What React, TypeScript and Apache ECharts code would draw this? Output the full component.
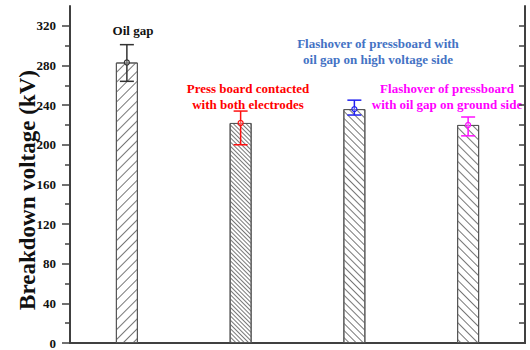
import React, { useEffect, useRef } from "react";
import * as echarts from "echarts";

const categories = ["Oil gap", "Press board contacted", "Flashover HV side", "Flashover ground side"];
const meanValues = [283, 222, 236, 220];
const upperValues = [301, 234, 245, 228];
const lowerValues = [264, 200, 230, 209];
const errorColors = ["#333333", "#ff1010", "#2020f0", "#ff10ff"];
const hatchGaps = [6, 2, 4, 5];
const hatchRotations = [-Math.PI / 4, Math.PI / 4, Math.PI / 4, Math.PI / 4];
const majorTicks = [0, 40, 80, 120, 160, 200, 240, 280, 320];
const minorTicks = [20, 60, 100, 140, 180, 220, 260, 300];
const rightTicks = [0, 20, 40, 60, 80, 100, 120, 140, 160, 180, 200, 220, 240, 260, 280, 300, 320];
const yTitle = "Breakdown voltage (kV)";
const annotations = [
  { lines: ["Oil gap"], color: "#111111", x: 133, y: 30 },
  { lines: ["Press board contacted", "with both electrodes"], color: "#ff0000", x: 248, y: 88 },
  { lines: ["Flashover of pressboard with", "oil gap on high voltage side"], color: "#4472c4", x: 378, y: 43 },
  { lines: ["Flashover of pressboard", "with oil gap on ground side"], color: "#ff00ff", x: 447, y: 88 },
];

const FONT = "'Liberation Serif', 'Times New Roman', serif";
const AXIS_COLOR = "#404040";

export default function App() {
  const ref = useRef<HTMLDivElement>(null);
  useEffect(() => {
    if (!ref.current) return;
    const chart = echarts.init(ref.current, null, { renderer: "svg" });

    const barData = meanValues.map((v, i) => ({
      value: v,
      itemStyle: {
        color: "#ffffff",
        borderColor: "#555555",
        borderWidth: 1,
        decal: {
          symbol: "rect",
          symbolSize: 1,
          color: "#777777",
          dashArrayX: [1, 0],
          dashArrayY: [1, hatchGaps[i]],
          rotation: hatchRotations[i],
        },
      },
    }));

    const errData = meanValues.map((v, i) => [i, v, upperValues[i], lowerValues[i]]);

    const graphics: any[] = [];
    annotations.forEach((a) => {
      a.lines.forEach((line, k) => {
        graphics.push({
          type: "text",
          x: a.x,
          y: a.y + k * 16,
          style: {
            text: line,
            fill: a.color,
            fontFamily: FONT,
            fontWeight: "bold",
            fontSize: 13,
            textAlign: "center",
            textVerticalAlign: "middle",
          },
        });
      });
    });
    graphics.push({
      type: "text",
      x: 27,
      y: 190,
      rotation: Math.PI / 2,
      style: {
        text: yTitle,
        fill: "#111111",
        fontFamily: FONT,
        fontWeight: "bold",
        fontSize: 23,
        textAlign: "center",
        textVerticalAlign: "middle",
      },
    });

    const common = { min: 0, max: 340, type: "value" as const, splitLine: { show: false } };

    chart.setOption({
      animation: false,
      textStyle: { fontFamily: FONT },
      grid: { left: 70, right: 5, top: 6, bottom: 7 },
      xAxis: [
        {
          type: "category",
          data: categories,
          position: "bottom",
          axisLine: { lineStyle: { color: AXIS_COLOR, width: 2 } },
          axisTick: { alignWithLabel: true, length: 6, lineStyle: { color: AXIS_COLOR, width: 1.5 } },
          axisLabel: { show: false },
        },
        {
          type: "category",
          data: categories,
          position: "top",
          axisLine: { lineStyle: { color: AXIS_COLOR, width: 2 } },
          axisTick: { alignWithLabel: true, inside: true, length: 6, lineStyle: { color: AXIS_COLOR, width: 1.5 } },
          axisLabel: { show: false },
        },
      ],
      yAxis: [
        {
          ...common,
          position: "left",
          axisLine: { show: true, lineStyle: { color: AXIS_COLOR, width: 2 } },
          axisTick: { show: true, customValues: majorTicks, length: 8, lineStyle: { color: AXIS_COLOR, width: 1.5 } },
          axisLabel: {
            customValues: majorTicks,
            margin: 14,
            color: "#111111",
            fontFamily: FONT,
            fontWeight: "bold",
            fontSize: 13,
          },
        },
        {
          ...common,
          position: "left",
          axisLine: { show: false },
          axisTick: { show: true, customValues: minorTicks, length: 5, lineStyle: { color: AXIS_COLOR, width: 1.5 } },
          axisLabel: { show: false },
        },
        {
          ...common,
          position: "right",
          axisLine: { show: true, lineStyle: { color: AXIS_COLOR, width: 2 } },
          axisTick: { show: true, inside: true, customValues: rightTicks, length: 6, lineStyle: { color: AXIS_COLOR, width: 1.5 } },
          axisLabel: { show: false },
        },
      ],
      series: [
        {
          type: "bar",
          xAxisIndex: 0,
          yAxisIndex: 0,
          barWidth: 22,
          data: barData,
        },
        {
          type: "custom",
          xAxisIndex: 0,
          yAxisIndex: 0,
          data: errData,
          z: 5,
          renderItem: (params: any, api: any) => {
            const idx = api.value(0);
            const color = errorColors[params.dataIndex];
            const pm = api.coord([idx, api.value(1)]);
            const pu = api.coord([idx, api.value(2)]);
            const pl = api.coord([idx, api.value(3)]);
            const hw = 7;
            const st = { stroke: color, lineWidth: 1.5 };
            return {
              type: "group",
              children: [
                { type: "line", shape: { x1: pu[0], y1: pu[1], x2: pl[0], y2: pl[1] }, style: st },
                { type: "line", shape: { x1: pu[0] - hw, y1: pu[1], x2: pu[0] + hw, y2: pu[1] }, style: st },
                { type: "line", shape: { x1: pl[0] - hw, y1: pl[1], x2: pl[0] + hw, y2: pl[1] }, style: st },
                { type: "circle", shape: { cx: pm[0], cy: pm[1], r: 2.5 }, style: { stroke: color, fill: "rgba(255,255,255,0.3)", lineWidth: 1.2 } },
              ],
            };
          },
        },
      ],
      graphic: graphics,
    });
    return () => chart.dispose();
  }, []);
  return <div ref={ref} style={{ width: 530, height: 350, position: "absolute", left: 0, top: 0 }} />;
}
